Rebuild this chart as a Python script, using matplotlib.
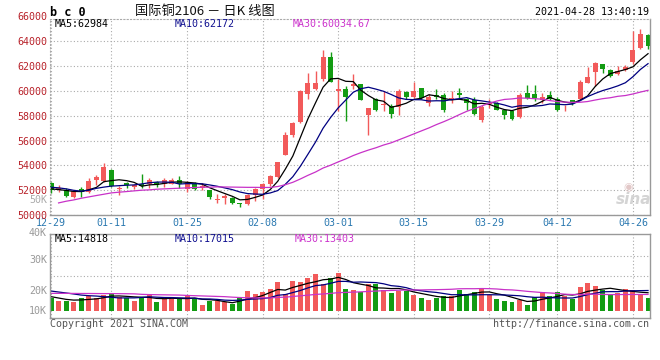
import numpy as np
import pandas as pd
import matplotlib
matplotlib.use("Agg")
import matplotlib.pyplot as plt
from matplotlib.transforms import blended_transform_factory

# daily bars of BC2106, 2020-12-29 .. 2021-04-28 (80 trading days)
OPEN = [52594, 52050, 52050, 51430, 52135, 51840, 52810, 52730, 53620, 52100,
        52570, 52270, 52460, 52460, 52700, 52540, 52540, 52860, 52110, 52510,
        52190, 52000, 51200, 51400, 51400, 50960, 50900, 51620, 52080, 52490,
        53100, 54850, 56480, 57480, 59720, 60180, 60930, 62780, 60020, 60150,
        60420, 60560, 58030, 59390, 58850, 58790, 58700, 59950, 59540, 60220,
        59045, 59650, 59650, 59320, 59810, 59370, 59240, 57690, 58960, 59045,
        58500, 58420, 57910, 59810, 59780, 59270, 59650, 59380, 58670, 59240,
        59380, 60680, 61550, 62180, 61690, 61360, 61720, 62310, 63460, 64540]
HIGH = [52700, 52380, 52190, 51980, 52240, 52945, 53215, 54160, 53730, 52320,
        52680, 52460, 53270, 53000, 52780, 53000, 53000, 53130, 52730, 52675,
        52590, 52050, 51670, 51670, 51480, 51000, 51670, 52150, 52550, 53215,
        54300, 56700, 57500, 60050, 61450, 61600, 63300, 63120, 61000, 60400,
        61375, 60600, 58620, 59470, 60015, 58930, 60200, 60020, 60740, 60270,
        59730, 60140, 59860, 60000, 60270, 59450, 59540, 58900, 59370, 59100,
        58550, 58500, 59810, 60460, 60460, 59810, 60000, 59540, 58910, 59260,
        60870, 61960, 62310, 62200, 61770, 62040, 62100, 64820, 65030, 64560]
LOW = [51784, 51840, 51460, 51400, 51460, 51785, 52380, 52675, 52270, 51650,
       52190, 52100, 52190, 52190, 52240, 52240, 52540, 52190, 51865, 52050,
       52050, 51300, 50990, 50900, 50850, 50630, 50770, 51120, 51260, 52350,
       52950, 54800, 56300, 57400, 59330, 60100, 60800, 60700, 58400, 57600,
       60150, 59250, 56480, 58360, 58380, 57840, 58030, 59390, 59400, 59320,
       58830, 59320, 58280, 59045, 59450, 58440, 58090, 57460, 58635, 58440,
       57730, 57680, 57850, 59380, 59190, 59050, 59270, 58370, 58370, 58910,
       59320, 60630, 60400, 61440, 61090, 61280, 61630, 62180, 63350, 63400]
CLOSE = [52000, 52150, 51510, 51920, 51865, 52730, 53080, 53865, 52325, 52200,
         52380, 52380, 52320, 52860, 52380, 52810, 52860, 52460, 52675, 52110,
         52320, 51430, 51260, 51530, 50990, 50900, 51600, 52080, 52490, 53170,
         54250, 56480, 57400, 60000, 60670, 60680, 62780, 60750, 60200, 59500,
         60560, 59300, 58600, 58460, 58950, 58110, 60000, 59540, 60000, 59400,
         59535, 59540, 58500, 59450, 59670, 59045, 58150, 58720, 59045, 58500,
         58090, 57730, 59650, 59460, 59430, 59540, 59380, 58450, 58720, 59000,
         60740, 61090, 62230, 61770, 61170, 61580, 61900, 63320, 64630, 63620]
VOLUME = [10370, 8160, 8160, 7590, 10860, 12490, 10370, 13060, 13880, 11670,
          10860, 8160, 11670, 13060, 7590, 9800, 9800, 10860, 12490, 9800,
          4900, 8160, 8160, 7100, 5470, 11670, 16330, 13880, 15760, 17960,
          23920, 13880, 24730, 23920, 26690, 30200, 22040, 27180, 31270, 17960,
          17140, 15760, 21800, 21800, 17140, 14940, 16330, 16330, 13060, 10860,
          8980, 10370, 12490, 12490, 17140, 13880, 15760, 17960, 13060, 9800,
          8160, 7100, 8980, 4900, 11670, 15270, 12490, 15270, 12490, 9800,
          19840, 22610, 20410, 16900, 13060, 14940, 17960, 17140, 13630, 10860]

# moving-average values before the window is full
MA5_HEAD = [52110, 52050, 51980, 51900]
MA10_HEAD = [52240, 52190, 52110, 51990, 51920, 52000, 52150, 52250, 52330]
MA30_HEAD = [np.nan, 50974, 51110, 51215, 51350, 51460, 51570, 51676, 51784, 51840,
             51890, 51946, 52000, 52027, 52080, 52108, 52135, 52160, 52190, 52216,
             52243, 52243, 52270, 52260, 52250, 52240, 52230, 52230, 52220]
VMA5_HEAD = [11700, 10600, 9500, 8900]
VMA10_HEAD = [16300, 15500, 14700, 13900, 13000, 12500, 12200, 11700, 11200]
VMA30_HEAD = [14400, 14400, 14400, 14350, 14300, 14300, 14250, 14200, 14200, 14150,
              14100, 14000, 13600, 13400, 13300, 13200, 13100, 13000, 12700, 12500,
              12300, 12100, 11900, 11700, 11300, 11000, 10800, 10700, 10700]

TICK_INDEX = [0, 8, 18, 28, 38, 48, 58, 67, 77]
TICK_LABELS = ["12-29", "01-11", "01-25", "02-08", "03-01", "03-15", "03-29", "04-12", "04-26"]
PRICE_TICKS = [50000, 52000, 54000, 56000, 58000, 60000, 62000, 64000]
VOL_LABELS = ["40K", "30K", "20K", "10K"]

RED, GREEN = "#f25a5a", "#139c13"
MA_COLORS = {5: "#000000", 10: "#000080", 30: "#c832c8"}
LABEL_COLORS = {5: "#000000", 10: "#101090", 30: "#cc33cc"}
GRID = dict(color="#aaaaaa", linestyle=(0, (1, 2)), linewidth=0.8)
MONO = "DejaVu Sans Mono"

W, H = 660, 360
PX_PER_K = 1.225      # volume panel: pixels per 1000 lots
VOL_BASE_Y = 311


def box(left, top, right, bottom):
    return [left / W, 1 - bottom / H, (right - left) / W, (bottom - top) / H]


def moving(values, n, head):
    ma = pd.Series(values, dtype=float).rolling(n).mean().to_numpy()
    ma[:n - 1] = head
    return ma


def main():
    x = np.arange(len(CLOSE))
    o, h, l, c = (np.array(v, dtype=float) for v in (OPEN, HIGH, LOW, CLOSE))
    up = c >= o
    colors = np.where(up, RED, GREEN)

    fig = plt.figure(figsize=(W / 100, H / 100), dpi=100)
    ax = fig.add_axes(box(49.5, 19, 650, 215))
    axv = fig.add_axes(box(49.5, 234.3, 650, 318.3))

    # price panel
    ax.vlines(x, l, h, colors=colors, linewidth=1.0)
    body = np.maximum(np.abs(c - o), 25)
    ax.bar(x, body, bottom=np.minimum(o, c), width=0.66, color=colors, linewidth=0)
    for n, head in ((5, MA5_HEAD), (10, MA10_HEAD), (30, MA30_HEAD)):
        ax.plot(x, moving(c, n, head), color=MA_COLORS[n], linewidth=0.9)

    ax.set_xlim(-0.2, 79.26)
    ax.set_ylim(50000, 65806)
    ax.set_yticks(PRICE_TICKS)
    ax.set_yticklabels([str(v) for v in PRICE_TICKS])
    ax.set_xticks(TICK_INDEX)
    ax.set_xticklabels(TICK_LABELS)
    ax.grid(True, **GRID)
    ax.set_axisbelow(True)
    ax.tick_params(length=0, pad=1.8)
    ax.tick_params(axis="y", labelcolor="#b8222a", labelsize=7.2)
    ax.tick_params(axis="x", labelcolor="#2a78b0", labelsize=7.2, pad=2.5)
    for lab in ax.get_xticklabels() + ax.get_yticklabels():
        lab.set_family(MONO)
    for side in ("left", "top"):
        ax.spines[side].set(color="#aaaaaa", linestyle=(0, (1, 2)), linewidth=0.8)
    for side in ("right", "bottom"):
        ax.spines[side].set(color="#999999", linewidth=1.0)
    trans = blended_transform_factory(ax.transAxes, ax.transData)
    ax.text(-0.0042, 66000, "66000", transform=trans, ha="right", va="center",
            color="#b8222a", fontsize=7.2, family=MONO, clip_on=False)

    # volume panel
    axv.bar(x, VOLUME, width=0.66, color=colors, linewidth=0)
    vol = np.array(VOLUME, dtype=float)
    for n, head in ((5, VMA5_HEAD), (10, VMA10_HEAD), (30, VMA30_HEAD)):
        axv.plot(x, moving(vol, n, head), color=MA_COLORS[n], linewidth=0.9)
    axv.set_xlim(-0.2, 79.26)
    axv.set_ylim(-(318.3 - VOL_BASE_Y) / PX_PER_K * 1000, (VOL_BASE_Y - 234.3) / PX_PER_K * 1000)
    axv.set_xticks(TICK_INDEX)
    axv.set_yticks([(VOL_BASE_Y - y) / PX_PER_K * 1000 for y in (256, 276)])
    axv.tick_params(length=0, labelbottom=False, labelleft=False)
    axv.grid(True, **GRID)
    axv.set_axisbelow(True)
    for side in axv.spines.values():
        side.set(color="#999999", linewidth=1.0)
    for y, lab in zip((233, 260, 291, 311), VOL_LABELS):
        fig.text(47 / W, 1 - y / H, lab, ha="right", va="center", color="#999999",
                 fontsize=7.2, family=MONO)
    fig.text(47 / W, 1 - 200 / H, "50K", ha="right", va="center", color="#aaaaaa",
             fontsize=7.2, family=MONO)

    # header texts
    fig.text(50 / W, 1 - 12 / H, "b c 0", ha="left", va="center", fontsize=8.5,
             fontweight="bold", family=MONO)
    fig.text(205 / W, 1 - 12 / H, "国际铜2106 － 日K 线图", ha="center", va="center",
             fontsize=9.5, family=["Noto Sans CJK SC", "DejaVu Sans"], color="#111111")
    fig.text(649 / W, 1 - 12 / H, "2021-04-28 13:40:19", ha="right", va="center",
             fontsize=7.2, family=MONO)
    for xp, n, val in ((55, 5, "62984"), (175, 10, "62172"), (293, 30, "60034.67")):
        fig.text(xp / W, 1 - 24 / H, f"MA{n}:{val}", ha="left", va="center",
                 fontsize=7.2, family=MONO, color=LABEL_COLORS[n])
    for xp, n, val in ((55, 5, "14818"), (175, 10, "17015"), (295, 30, "13403")):
        fig.text(xp / W, 1 - 238.5 / H, f"MA{n}:{val}", ha="left", va="center",
                 fontsize=7.2, family=MONO, color=LABEL_COLORS[n])

    # watermark
    fig.text(628 / W, 1 - 187 / H, "◉", ha="center", va="center", fontsize=8,
             color="#e2c8c8")
    fig.text(634 / W, 1 - 199 / H, "sina", ha="center", va="center", fontsize=11,
             fontstyle="italic", fontweight="bold", color="#d4d4d4")
    fig.text(50 / W, 1 - 324 / H, "Copyright 2021 SINA.COM", ha="left", va="center",
             fontsize=7.2, family=MONO, color="#555555")
    fig.text(649 / W, 1 - 324 / H, "http://finance.sina.com.cn", ha="right", va="center",
             fontsize=7.2, family=MONO, color="#555555")

    fig.savefig("out.png", dpi=100)
    plt.close(fig)


if __name__ == "__main__":
    main()
